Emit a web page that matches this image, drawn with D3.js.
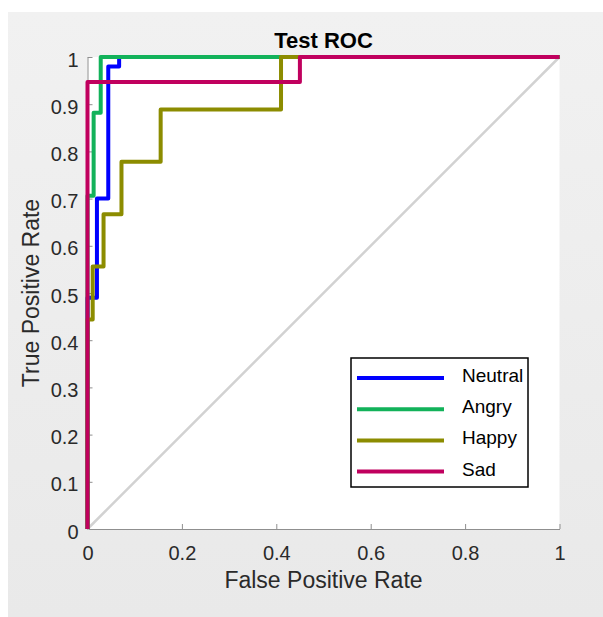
<!DOCTYPE html>
<html>
<head>
<meta charset="utf-8">
<script src="https://cdn.jsdelivr.net/npm/d3@7"></script>
<style>
  body { margin: 0; background: #fff; }
  text { font-family: "Liberation Sans", Arial, Helvetica, sans-serif; }
</style>
</head>
<body>
<div id="chart-area"></div>
<script>
// ROC curves (false positive rate / true positive rate)
const classNames = ['Neutral', 'Angry', 'Happy', 'Sad']

const neutralFpr = [0, 0, 0.02, 0.02, 0.044, 0.044, 0.067, 0.067, 1]
const neutralTpr = [0, 0.49, 0.49, 0.70, 0.70, 0.98, 0.98, 1, 1]

const angryFpr = [0, 0, 0.013, 0.013, 0.028, 0.028, 1]
const angryTpr = [0, 0.706, 0.706, 0.882, 0.882, 1, 1]

const happyFpr = [0, 0, 0.011, 0.011, 0.034, 0.034, 0.072, 0.072, 0.155, 0.155, 0.41, 0.41, 1]
const happyTpr = [0, 0.444, 0.444, 0.556, 0.556, 0.667, 0.667, 0.778, 0.778, 0.889, 0.889, 1, 1]

const sadFpr = [0, 0, 0.45, 0.45, 1]
const sadTpr = [0, 0.947, 0.947, 1, 1]

// chance line
const chanceFpr = [0, 1]
const chanceTpr = [0, 1]

const tickValues = [0, 0.1, 0.2, 0.3, 0.4, 0.5, 0.6, 0.7, 0.8, 0.9, 1]
const yTickLabels = ['0', '0.1', '0.2', '0.3', '0.4', '0.5', '0.6', '0.7', '0.8', '0.9', '1']
const xTickValues = [0, 0.2, 0.4, 0.6, 0.8, 1]
const xTickLabels = ['0', '0.2', '0.4', '0.6', '0.8', '1']

const colors = ['#0000ff', '#12b25a', '#8c8c00', '#c0005e']

const canvas = { width: 603, height: 617 }
const margin = { left: 87.5, top: 57 }
const group = { width: 472, height: 472 }

let svg = d3.select('#chart-area')
    .append('svg')
    .attr('width', canvas.width)
    .attr('height', canvas.height)

// grey figure background
let grad = svg.append('defs').append('linearGradient')
    .attr('id', 'bg').attr('x1', 0).attr('y1', 0).attr('x2', 0).attr('y2', 1)
grad.append('stop').attr('offset', '0%').attr('stop-color', '#f1f1f1')
grad.append('stop').attr('offset', '100%').attr('stop-color', '#e9e9e9')

svg.append('rect')
    .attr('x', 8).attr('y', 12)
    .attr('width', canvas.width - 8).attr('height', canvas.height - 12)
    .attr('fill', 'url(#bg)')

let g = svg.append('g')
    .attr('transform', `translate(${margin.left},${margin.top})`)

g.append('rect')
    .attr('width', group.width)
    .attr('height', group.height)
    .attr('fill', '#fff')

let scaleX = d3.scaleLinear().domain([0, 1]).range([0, group.width])
let scaleY = d3.scaleLinear().domain([0, 1]).range([group.height, 0])

// axes, ticks pointing inward
let xAxis = d3.axisBottom(scaleX)
    .tickValues(xTickValues)
    .tickFormat((d, i) => xTickLabels[i])
    .tickSize(-5)
    .tickSizeOuter(0)
    .tickPadding(17)
let xg = g.append('g')
    .attr('transform', `translate(0, ${group.height})`)
    .call(xAxis)

let yAxis = d3.axisLeft(scaleY)
    .tickValues(tickValues)
    .tickFormat((d, i) => yTickLabels[i])
    .tickSize(-5)
    .tickSizeOuter(0)
    .tickPadding(9)
let yg = g.append('g').call(yAxis)

for (const ax of [xg, yg]) {
    ax.select('.domain').attr('stroke', '#8f8f8f')
    ax.selectAll('.tick line').attr('stroke', '#8f8f8f')
    ax.selectAll('.tick text')
        .attr('font-size', 20)
        .attr('font-family', '"Liberation Sans", Arial, Helvetica, sans-serif')
        .attr('fill', '#2a2a2a')
}
yg.selectAll('.tick text').attr('dy', '0.45em')

let line = d3.line()
    .x(d => scaleX(d[0]))
    .y(d => scaleY(d[1]))

g.append('path')
    .datum(d3.zip(chanceFpr, chanceTpr))
    .attr('d', line)
    .attr('fill', 'none')
    .attr('stroke', '#d2d2d2')
    .attr('stroke-width', 2.5)

const curves = [
    d3.zip(neutralFpr, neutralTpr),
    d3.zip(angryFpr, angryTpr),
    d3.zip(happyFpr, happyTpr),
    d3.zip(sadFpr, sadTpr)
]

g.selectAll('.roc')
    .data(curves)
    .enter()
    .append('path')
    .attr('class', 'roc')
    .attr('d', line)
    .attr('fill', 'none')
    .attr('stroke', (d, i) => colors[i])
    .attr('stroke-width', 4)
    .attr('stroke-linejoin', 'round')

// title and axis labels
svg.append('text')
    .attr('x', margin.left + group.width / 2)
    .attr('y', 48)
    .attr('text-anchor', 'middle')
    .attr('font-size', 22)
    .attr('font-weight', 'bold')
    .attr('fill', '#000')
    .text('Test ROC')

svg.append('text')
    .attr('x', margin.left + group.width / 2)
    .attr('y', 588)
    .attr('text-anchor', 'middle')
    .attr('font-size', 23)
    .attr('fill', '#2a2a2a')
    .text('False Positive Rate')

svg.append('text')
    .attr('transform', `translate(39, ${margin.top + group.height / 2}) rotate(-90)`)
    .attr('text-anchor', 'middle')
    .attr('font-size', 23)
    .attr('fill', '#2a2a2a')
    .text('True Positive Rate')

// legend
let legend = svg.append('g')
    .attr('transform', 'translate(351, 358)')

legend.append('rect')
    .attr('width', 177)
    .attr('height', 129)
    .attr('fill', '#fff')
    .attr('stroke', '#000')
    .attr('stroke-width', 1.5)

let items = legend.selectAll('.item')
    .data(classNames)
    .enter()
    .append('g')
    .attr('transform', (d, i) => `translate(0, ${20 + i * 31.2})`)

items.append('line')
    .attr('x1', 6).attr('x2', 93)
    .attr('stroke', (d, i) => colors[i])
    .attr('stroke-width', 4)

items.append('text')
    .attr('x', 111)
    .attr('y', 4)
    .attr('font-size', 19)
    .attr('fill', '#000')
    .text(d => d)
</script>
</body>
</html>
